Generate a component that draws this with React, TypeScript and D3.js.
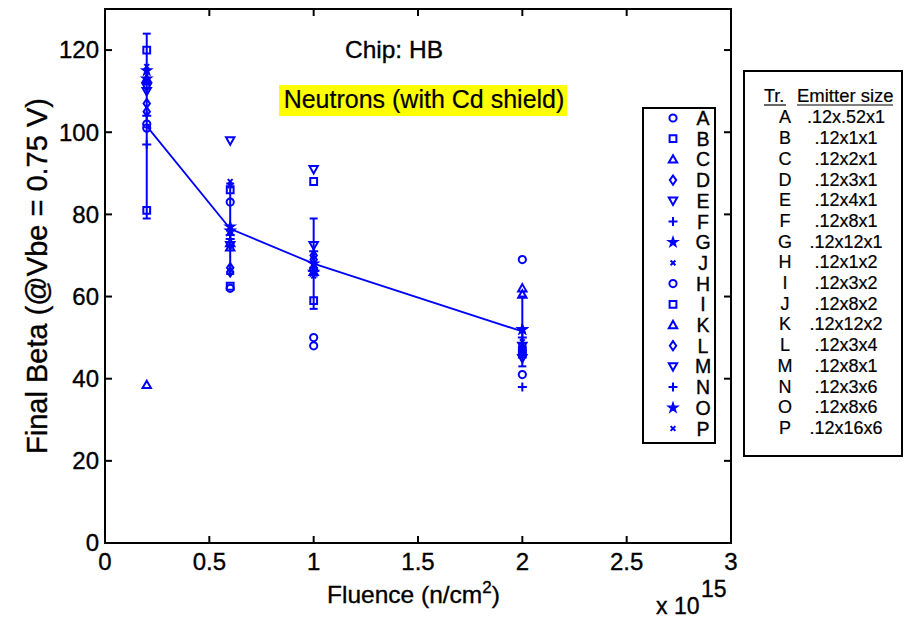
import React from 'react';
import * as d3 from 'd3';

// fluence values (x 1e15 n/cm2)
const fluence = [0.2, 0.6, 1, 2];

// transistor order as in the legend
const trNames = ['A', 'B', 'C', 'D', 'E', 'F', 'G', 'J', 'H', 'I', 'K', 'L', 'M', 'N', 'O', 'P'];
const markerTypes = ['o', 's', '^', 'd', 'v', '+', 'p', 'x', 'o', 's', '^', 'd', 'v', '+', 'p', 'x'];

// final beta per transistor, one array per fluence
const beta02 = [101, 120, 113, 107, 110, 97, 115, 116, 102, 81, 38.5, 105, 111, 104, 113, 112];
const beta06 = [83, 86, 73, 67, 98, 75, 77, 88, 62, 62.5, 72, 66, 72.5, 74, 76, 87];
const beta10 = [48, 88, 67, 70, 91, 67, 68, 70, 50, 59, 66, 69, 72.5, 71, 66, 65];
const beta20 = [69, 47, 62, 47, 48, 38, 52, 49, 41, 46, 60.5, 47.5, 45, 50, 52, 46];
const betaAll = [beta02, beta06, beta10, beta20];

// mean and error bar
const meanBeta = [101.5, 76.5, 68, 51.5];
const errBeta = [22.5, 11, 11, 8.5];

const yTicks = [0, 20, 40, 60, 80, 100, 120];
const xTicks = [0, 0.5, 1, 1.5, 2, 2.5, 3];

// table on the right
const tableTr = ['A', 'B', 'C', 'D', 'E', 'F', 'G', 'H', 'I', 'J', 'K', 'L', 'M', 'N', 'O', 'P'];
const tableSize = ['.12x.52x1', '.12x1x1', '.12x2x1', '.12x3x1', '.12x4x1', '.12x8x1', '.12x12x1', '.12x1x2',
  '.12x3x2', '.12x8x2', '.12x12x2', '.12x3x4', '.12x8x1', '.12x3x6', '.12x8x6', '.12x16x6'];

const BLUE = '#0000ff';
const FONT = '"Liberation Sans", Arial, Helvetica, sans-serif';

const starPath = d3.symbol().type(d3.symbolStar).size(32)() as string;

function markerPath(t: string): string {
  switch (t) {
    case 'o': return 'M3.6,0A3.6,3.6 0 1,1 -3.6,0A3.6,3.6 0 1,1 3.6,0Z';
    case 's': return 'M-3.4,-3.4H3.4V3.4H-3.4Z';
    case '^': return 'M0,-4.2L4.2,3.2H-4.2Z';
    case 'v': return 'M0,4.2L4.2,-3.2H-4.2Z';
    case 'd': return 'M0,-4.6L3.2,0L0,4.6L-3.2,0Z';
    case '+': return 'M-4.5,0H4.5M0,-4.5V4.5';
    case 'x': return 'M-2.4,-2.4L2.4,2.4M-2.4,2.4L2.4,-2.4';
    default: return starPath;
  }
}

const Marker = ({ t, x, y }: { t: string; x: number; y: number }) => (
  <path
    d={markerPath(t)}
    transform={`translate(${x},${y})`}
    fill={t === 'p' ? BLUE : 'none'}
    stroke={BLUE}
    strokeWidth={t === 'p' ? 1.2 : 2}
  />
);

export default function App() {
  const left = 105, right = 731, top = 9, bottom = 543;
  const x = d3.scaleLinear().domain([0, 3]).range([left, right]);
  const y = d3.scaleLinear().domain([0, 130]).range([bottom, top]);
  const line = d3.line<number>().x((_, i) => x(fluence[i])).y((d) => y(d));

  const legX = 643, legY = 108, legW = 72, legH = 335;
  const rowH = 20.7;
  const ink = { stroke: '#000', strokeWidth: 0.35 };

  return (
    <svg width={904} height={620} style={{ position: 'absolute', left: 0, top: 0, background: '#fff' }}
      fontFamily={FONT}>
      {/* points */}
      {betaAll.map((vals, fi) =>
        vals.map((v, si) => (
          <Marker key={`${fi}-${si}`} t={markerTypes[si]} x={x(fluence[fi])} y={y(v)} />
        ))
      )}
      {/* error bars */}
      {meanBeta.map((m, i) => {
        const cx = x(fluence[i]);
        return (
          <g key={`e${i}`} stroke={BLUE} strokeWidth={2}>
            <line x1={cx} x2={cx} y1={y(m - errBeta[i])} y2={y(m + errBeta[i])} />
            <line x1={cx - 4} x2={cx + 4} y1={y(m - errBeta[i])} y2={y(m - errBeta[i])} />
            <line x1={cx - 4} x2={cx + 4} y1={y(m + errBeta[i])} y2={y(m + errBeta[i])} />
          </g>
        );
      })}
      <path d={line(meanBeta) as string} fill="none" stroke={BLUE} strokeWidth={1.8} />

      {/* axes box and ticks */}
      <rect x={left} y={top} width={right - left} height={bottom - top} fill="none" stroke="#000" strokeWidth={2} />
      {yTicks.map((t) => (
        <g key={`y${t}`}>
          <line x1={left} x2={left + 7} y1={y(t)} y2={y(t)} stroke="#000" strokeWidth={2} />
          <line x1={right} x2={right - 7} y1={y(t)} y2={y(t)} stroke="#000" strokeWidth={2} />
          <text x={left - 6} y={y(t)} dy="0.35em" textAnchor="end" fontSize={24} {...ink}>{t}</text>
        </g>
      ))}
      {xTicks.map((t) => (
        <g key={`x${t}`}>
          <line x1={x(t)} x2={x(t)} y1={bottom} y2={bottom - 7} stroke="#000" strokeWidth={2} />
          <line x1={x(t)} x2={x(t)} y1={top} y2={top + 7} stroke="#000" strokeWidth={2} />
          <text x={x(t)} y={bottom + 27} textAnchor="middle" fontSize={24} {...ink}>{t}</text>
        </g>
      ))}

      {/* labels */}
      <text transform="translate(47,276) rotate(-90)" textAnchor="middle" fontSize={29} {...ink}>Final Beta (@Vbe = 0.75 V)</text>
      <text x={327} y={603} fontSize={24.5} {...ink}>
        Fluence (n/cm<tspan dy={-10} fontSize={17}>2</tspan><tspan dy={10}>)</tspan>
      </text>
      <text x={656} y={614} fontSize={23} {...ink}>x 10</text>
      <text x={701} y={597} fontSize={23} {...ink}>15</text>

      <text x={394} y={58} textAnchor="middle" fontSize={24.5} {...ink}>Chip: HB</text>
      <rect x={279} y={85} width={288} height={31} fill="#ffff00" />
      <text x={424} y={108} textAnchor="middle" fontSize={25} strokeWidth={0.2} stroke="#000">Neutrons (with Cd shield)</text>

      {/* legend */}
      <rect x={legX} y={legY} width={legW} height={legH} fill="#fff" stroke="#000" strokeWidth={2} />
      {trNames.map((n, i) => (
        <g key={`l${n}`}>
          <Marker t={markerTypes[i]} x={673} y={118 + i * rowH} />
          <text x={703} y={118 + i * rowH} dy="0.36em" textAnchor="middle" fontSize={19.5} {...ink}>{n}</text>
        </g>
      ))}

      {/* transistor table */}
      <rect x={744} y={71} width={158} height={385} fill="#fff" stroke="#000" strokeWidth={2} />
      <text x={764} y={102} fontSize={18} strokeWidth={0.2} stroke="#000">Tr.</text>
      <line x1={764} x2={786} y1={105} y2={105} stroke="#000" strokeWidth={1.2} />
      <text x={797} y={102} fontSize={18.5} strokeWidth={0.2} stroke="#000">Emitter size</text>
      <line x1={797} x2={893} y1={105} y2={105} stroke="#000" strokeWidth={1.2} />
      {tableTr.map((n, i) => (
        <g key={`t${n}`} strokeWidth={0.2} stroke="#000">
          <text x={785} y={117 + i * rowH} dy="0.36em" textAnchor="middle" fontSize={18}>{n}</text>
          <text x={846} y={117 + i * rowH} dy="0.36em" textAnchor="middle" fontSize={18}>{tableSize[i]}</text>
        </g>
      ))}
    </svg>
  );
}
